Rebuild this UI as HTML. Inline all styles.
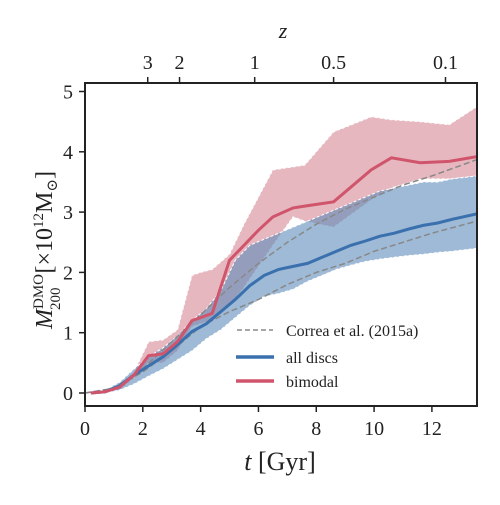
<!DOCTYPE html>
<html><head><meta charset="utf-8"><style>
body{margin:0;background:#fff}
svg text{font-family:"Liberation Serif","DejaVu Serif",serif;fill:#222}
</style></head><body>
<svg id="c" width="500" height="500" viewBox="0 0 500 500"></svg>
<script>
const tB=[0.2,0.7,1.2,1.7,2.2,2.7,3.2,3.7,4.2,4.7,5.2,5.7,6.2,6.7,7.2,7.7,8.2,8.7,9.2,9.7,10.2,10.7,11.2,11.7,12.2,12.7,13.56];
const blueMed=[0,0.02,0.12,0.3,0.45,0.6,0.8,1.02,1.15,1.35,1.55,1.78,1.95,2.05,2.1,2.15,2.25,2.35,2.45,2.52,2.6,2.65,2.72,2.78,2.82,2.88,2.97];
const blueHi=[0.02,0.05,0.18,0.4,0.6,0.75,0.95,1.2,1.4,1.7,2.2,2.45,2.55,2.65,2.75,2.85,2.95,3.05,3.15,3.25,3.35,3.4,3.45,3.5,3.5,3.55,3.6];
const blueLo=[0,0,0.05,0.15,0.28,0.4,0.55,0.7,0.9,1.05,1.25,1.45,1.6,1.65,1.72,1.85,1.95,2.05,2.12,2.18,2.22,2.25,2.28,2.3,2.33,2.35,2.4];
const tR=[0.2,0.7,1.2,1.7,2.2,2.7,3.2,3.7,4.0,4.4,5.0,5.5,6.0,6.5,7.2,7.6,8.6,9.9,10.6,11.6,12.6,13.56];
const redMed=[0,0.02,0.1,0.3,0.62,0.65,0.85,1.2,1.25,1.32,2.2,2.45,2.7,2.92,3.07,3.1,3.17,3.7,3.9,3.82,3.84,3.92];
const redHi=[0.02,0.05,0.15,0.35,0.85,0.88,1.05,1.95,2.0,2.05,2.3,2.8,3.25,3.7,3.75,3.78,4.33,4.58,4.53,4.5,4.45,4.75];
const redLo=[0,0,0.05,0.25,0.5,0.5,0.7,1.1,1.15,1.2,1.45,1.75,2.1,2.45,2.92,2.85,2.75,3.2,3.4,3.55,3.55,3.6];
const tC=[0,1,2,3,4,5,6,7,8,9,10,11,12,13.56];
const correaHi=[0,0.08,0.4,0.85,1.3,1.75,2.15,2.5,2.8,3.05,3.25,3.45,3.6,3.87];
const correaLo=[0,0.07,0.35,0.7,1.1,1.35,1.55,1.8,2.0,2.15,2.35,2.5,2.65,2.85];
const xTicks=[0,2,4,6,8,10,12];
const yTicks=[0,1,2,3,4,5];
const zLabels=["3","2","1","0.5","0.1"];
const zTimes=[2.17,3.27,5.87,8.6,12.47];

const L=85,R=477,T=83,B=406;
const X=t=>L+t*(R-L)/13.56;
const Y=v=>393-v*60.3;
const svg=document.getElementById('c');
const NS='http://www.w3.org/2000/svg';
function mk(tag,attrs,parent){const e=document.createElementNS(NS,tag);for(const k in attrs)e.setAttribute(k,attrs[k]);(parent||svg).appendChild(e);return e;}
function line(ts,vs){return ts.map((t,i)=>(i?'L':'M')+X(t).toFixed(1)+','+Y(vs[i]).toFixed(1)).join('');}
function band(ts,hi,lo){let d=line(ts,hi);for(let i=ts.length-1;i>=0;i--)d+='L'+X(ts[i]).toFixed(1)+','+Y(lo[i]).toFixed(1);return d+'Z';}
mk('clipPath',{id:'clip'}).appendChild(mk('rect',{x:L,y:T,width:R-L,height:B-T}));

let e;
e=mk('path',{d:band(tR,redHi,redLo),fill:'#d27b8b','fill-opacity':0.55,stroke:'#fff','stroke-dasharray':'3,2','stroke-width':1,'clip-path':'url(#clip)'});


e=mk('path',{d:band(tB,blueHi,blueLo),fill:'#5e8cbb','fill-opacity':0.6,stroke:'#fff','stroke-dasharray':'3,2','stroke-width':1,'clip-path':'url(#clip)'});


e=mk('path',{d:line(tC,correaHi),fill:'none',stroke:'#888','stroke-width':1.5,'stroke-dasharray':'6,3','clip-path':'url(#clip)'});


e=mk('path',{d:line(tC,correaLo),fill:'none',stroke:'#888','stroke-width':1.5,'stroke-dasharray':'6,3','clip-path':'url(#clip)'});


e=mk('path',{d:line(tB,blueMed),fill:'none',stroke:'#3a70ad','stroke-width':3,'clip-path':'url(#clip)'});


e=mk('path',{d:line(tR,redMed),fill:'none',stroke:'#d0556c','stroke-width':3,'clip-path':'url(#clip)'});



e=mk('rect',{x:L,y:T,width:R-L,height:B-T,fill:'none',stroke:'#222','stroke-width':2});



xTicks.forEach(v=>{
  e=mk('line',{x1:X(v),x2:X(v),y1:B,y2:B+6,stroke:'#222','stroke-width':1.5});
  
  
  e=mk('text',{x:X(v),y:B+29,'text-anchor':'middle','font-size':20});
  e.textContent=v;
  
  
});
yTicks.forEach(v=>{
  e=mk('line',{x1:L-6,x2:L,y1:Y(v),y2:Y(v),stroke:'#222','stroke-width':1.5});
  
  
  e=mk('text',{x:L-12,y:Y(v)+7,'text-anchor':'end','font-size':20});
  e.textContent=v;
  
  
});
zLabels.forEach((s,i)=>{
  e=mk('line',{x1:X(zTimes[i]),x2:X(zTimes[i]),y1:T-6,y2:T,stroke:'#222','stroke-width':1.5});
  
  
  e=mk('text',{x:X(zTimes[i]),y:T-14,'text-anchor':'middle','font-size':20});
  e.textContent=s;
  
  
});
</script>
<svg style="position:absolute;left:0;top:0" width="500" height="500">
<text x="283" y="38" font-size="22" font-style="italic" text-anchor="middle">z</text>
<text x="280" y="470" font-size="26" text-anchor="middle"><tspan font-style="italic">t</tspan> [Gyr]</text>
<text transform="translate(52,250) rotate(-90)" font-size="24" text-anchor="middle"><tspan font-style="italic">M</tspan><tspan font-size="15" dy="-9">DMO</tspan><tspan font-size="15" dx="-36" dy="17">200</tspan><tspan dy="-8" dx="8"> [×10</tspan><tspan font-size="15" dy="-9">12</tspan><tspan dy="9">M</tspan><tspan font-size="15" dy="5">⊙</tspan><tspan dy="-5">]</tspan></text>
<g>
<line x1="237" y1="330" x2="273" y2="330" stroke="#888" stroke-width="1.5" stroke-dasharray="5,3"/>
<text x="286" y="336" font-size="16">Correa et al. (2015a)</text>
<line x1="236" y1="357" x2="274" y2="357" stroke="#3a70ad" stroke-width="3.5"/>
<text x="286" y="363" font-size="16">all discs</text>
<line x1="236" y1="381" x2="274" y2="381" stroke="#d0556c" stroke-width="3.5"/>
<text x="286" y="387" font-size="16">bimodal</text>
</g>
</svg>
</body></html>
